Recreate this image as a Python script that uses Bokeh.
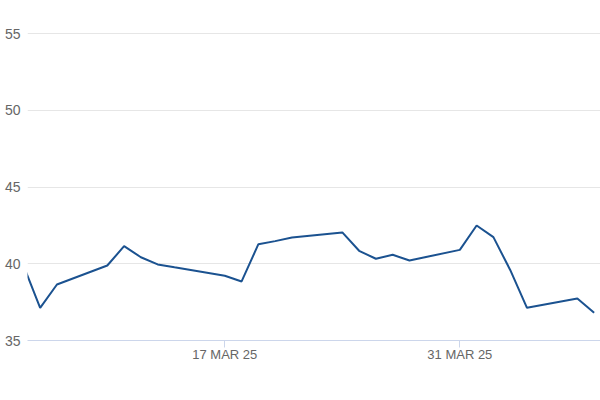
import pandas as pd
from bokeh.plotting import figure
from bokeh.models import Range1d, FixedTicker
from bokeh.embed import file_html
from bokeh.resources import INLINE

dates = ["2025-03-05", "2025-03-06", "2025-03-07", "2025-03-10", "2025-03-11",
         "2025-03-12", "2025-03-13", "2025-03-14", "2025-03-17", "2025-03-18",
         "2025-03-19", "2025-03-20", "2025-03-21", "2025-03-24", "2025-03-25",
         "2025-03-26", "2025-03-27", "2025-03-28", "2025-03-31", "2025-04-01",
         "2025-04-02", "2025-04-03", "2025-04-04", "2025-04-07", "2025-04-08"]
values = [39.9, 37.13, 38.65, 39.89, 41.15,
          40.43, 39.96, 39.77, 39.22, 38.85,
          41.28, 41.48, 41.72, 42.05, 40.85,
          40.33, 40.59, 40.22, 40.91, 42.5,
          41.74, 39.6, 37.13, 37.74, 36.81]
tick_dates = ["2025-03-17", "2025-03-31"]
tick_labels = ["17 MAR 25", "31 MAR 25"]
y_ticks = [35, 40, 45, 50, 55]

x = pd.to_datetime(dates)
ticks_ms = [pd.Timestamp(d).value / 1e6 for d in tick_dates]

x_start = pd.Timestamp("2025-03-05") + pd.Timedelta(hours=5.9)
x_end = pd.Timestamp("2025-04-08") + pd.Timedelta(hours=9.1)

p = figure(width=600, height=400, x_axis_type="datetime",
           output_backend="svg", toolbar_location=None,
           x_range=Range1d(x_start, x_end), y_range=Range1d(35, 55.085),
           min_border_left=27, min_border_right=0,
           min_border_top=32, min_border_bottom=60)
p.outline_line_color = None
p.background_fill_color = "white"

p.line(x, values, line_color="#1b5290", line_width=2)

# x axis
xa = p.xaxis[0]
xa.ticker = FixedTicker(ticks=ticks_ms)
xa.major_label_overrides = {t: l for t, l in zip(ticks_ms, tick_labels)}
xa.axis_line_color = "#ccd6eb"
xa.major_tick_line_color = "#ccd6eb"
xa.major_tick_out = 7
xa.major_tick_in = 0
xa.minor_tick_line_color = None
xa.major_label_standoff = -1
xa.major_label_text_font = "Liberation Sans"
xa.major_label_text_font_size = "13px"
xa.major_label_text_color = "#666666"
p.xgrid.grid_line_color = None

# y axis
ya = p.yaxis[0]
ya.ticker = FixedTicker(ticks=y_ticks)
ya.axis_line_color = None
ya.major_tick_line_color = None
ya.minor_tick_line_color = None
ya.major_tick_out = 0
ya.major_tick_in = 0
ya.major_label_standoff = 7
ya.major_label_text_font = "Liberation Sans"
ya.major_label_text_font_size = "14px"
ya.major_label_text_color = "#666666"
p.ygrid.grid_line_color = "#e6e6e6"
p.ygrid.ticker = FixedTicker(ticks=y_ticks)

open("out.html", "w").write(file_html(p, INLINE))
